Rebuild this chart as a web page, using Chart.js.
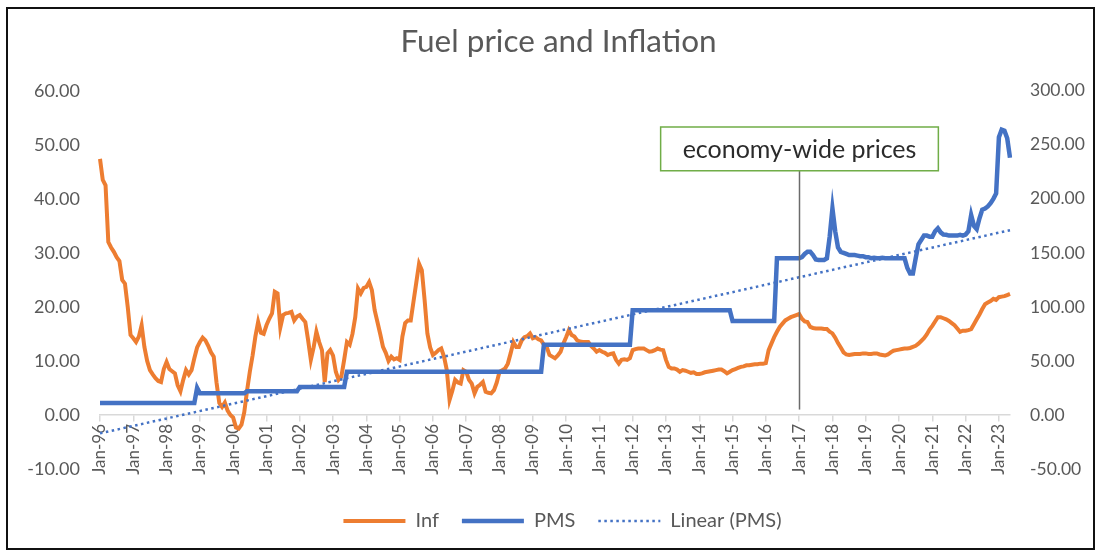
<!DOCTYPE html>
<html>
<head>
<meta charset="utf-8">
<script src="https://cdn.jsdelivr.net/npm/chart.js@4"></script>
<style>
  body { margin: 0; background: #fff; }
  #wrap { position: relative; width: 1097px; height: 551px; }
  #frame { position: absolute; left: 6px; top: 7px; width: 1089px; height: 543px; border: 2px solid #111; box-sizing: border-box; pointer-events: none; }
</style>
</head>
<body>
<div id="wrap">
  <canvas id="fuelChart" width="1097" height="551"></canvas>
  <div id="frame"></div>
</div>
<script>
// Monthly categories Jan-96 .. May-23
const monthNames = ["Jan","Feb","Mar","Apr","May","Jun","Jul","Aug","Sep","Oct","Nov","Dec"];
const labels = [];
for (let yr = 1996; yr <= 2023; yr++) {
  for (let mo = 0; mo < 12; mo++) {
    if (yr === 2023 && mo > 4) break;
    labels.push(monthNames[mo] + "-" + String(yr).slice(2));
  }
}

// Inflation (%), left axis, one row per year
const inf = [
  47.4, 43.5, 42.5, 32.0, 31.0, 30.2, 29.2, 28.5, 25.0, 24.3, 20.0, 14.8,
  14.2, 13.5, 14.5, 16.6, 12.6, 10.0, 8.3, 7.5, 6.8, 6.3, 6.1, 8.5,
  9.8, 8.5, 8.1, 7.7, 5.5, 4.4, 6.5, 8.3, 7.5, 8.3, 10.5, 12.5,
  13.5, 14.3, 13.8, 12.8, 11.6, 10.8, 6.0, 2.2, 1.5, 2.3, 0.8, 0.0,
  -0.5, -2.3, -2.5, -1.8, 0.5, 4.5, 8.0, 11.0, 14.5, 17.2, 15.2, 15.0,
  16.6, 17.8, 18.8, 22.8, 22.5, 16.2, 18.5, 18.8, 18.9, 19.1, 17.5, 18.2,
  18.5, 17.8, 17.2, 13.9, 10.2, 12.5, 15.4, 13.5, 12.0, 6.1, 11.4, 12.0,
  11.0, 8.0, 6.5, 7.1, 10.2, 13.5, 13.0, 15.0, 18.1, 23.4, 22.5, 23.5,
  23.7, 24.6, 23.1, 19.4, 17.2, 15.0, 12.6, 11.5, 10.0, 10.8, 10.3, 10.5,
  10.2, 14.5, 17.0, 17.5, 17.5, 21.0, 24.5, 28.0, 26.8, 21.3, 15.1, 12.5,
  11.1, 11.5, 12.0, 12.3, 10.8, 8.3, 2.8, 4.5, 6.5, 6.0, 5.8, 8.3,
  8.0, 6.5, 5.8, 4.0, 5.2, 5.6, 6.1, 4.3, 4.1, 4.0, 4.6, 6.0,
  8.0, 8.3, 8.6, 9.5, 11.4, 13.5, 12.6, 12.6, 13.8, 14.4, 14.6, 15.1,
  14.2, 14.4, 14.0, 13.8, 13.0, 12.6, 11.1, 10.8, 10.5, 11.0, 11.7, 13.2,
  14.4, 15.7, 14.8, 14.5, 13.8, 13.6, 13.5, 13.5, 13.5, 12.8, 12.3, 11.7,
  12.0, 11.7, 11.5, 11.1, 11.3, 11.4, 10.2, 9.5, 10.2, 10.3, 10.2, 10.5,
  12.0, 12.2, 12.3, 12.3, 12.3, 12.0, 11.7, 11.8, 12.0, 12.3, 12.1, 12.0,
  10.2, 8.9, 8.6, 8.6, 8.4, 8.0, 8.3, 8.2, 8.0, 7.8, 7.9, 7.6,
  7.6, 7.7, 7.9, 8.0, 8.1, 8.2, 8.3, 8.4, 8.4, 8.1, 7.7, 8.0,
  8.3, 8.5, 8.7, 8.9, 9.0, 9.2, 9.2, 9.3, 9.4, 9.4, 9.5, 9.5,
  9.6, 12.0, 13.2, 14.4, 15.4, 16.3, 16.9, 17.5, 17.8, 18.1, 18.3, 18.5,
  18.7, 17.8, 17.3, 17.2, 16.3, 16.1, 16.0, 16.0, 16.0, 15.9, 15.9, 15.4,
  15.1, 14.3, 13.3, 12.5, 11.6, 11.2, 11.1, 11.2, 11.3, 11.3, 11.3, 11.4,
  11.4, 11.3, 11.3, 11.4, 11.4, 11.2, 11.1, 11.0, 11.2, 11.6, 11.9, 12.0,
  12.1, 12.2, 12.3, 12.3, 12.4, 12.6, 12.8, 13.2, 13.7, 14.2, 14.9, 15.8,
  16.5, 17.3, 18.1, 18.1, 17.9, 17.7, 17.4, 17.0, 16.6, 16.0, 15.4, 15.6,
  15.6, 15.7, 15.9, 16.8, 17.7, 18.6, 19.6, 20.5, 20.8, 21.1, 21.5, 21.3,
  21.8, 21.9, 22.0, 22.2, 22.4
];

// PMS pump price, right axis
const pms = [
  11, 11, 11, 11, 11, 11, 11, 11, 11, 11, 11, 11,
  11, 11, 11, 11, 11, 11, 11, 11, 11, 11, 11, 11,
  11, 11, 11, 11, 11, 11, 11, 11, 11, 11, 11, 25,
  20, 20, 20, 20, 20, 20, 20, 20, 20, 20, 20, 20,
  20, 20, 20, 20, 20, 22, 22, 22, 22, 22, 22, 22,
  22, 22, 22, 22, 22, 22, 22, 22, 22, 22, 22, 22,
  26, 26, 26, 26, 26, 26, 26, 26, 26, 26, 26, 26,
  26, 26, 26, 26, 26, 40, 40, 40, 40, 40, 40, 40,
  40, 40, 40, 40, 40, 40, 40, 40, 40, 40, 40, 40,
  40, 40, 40, 40, 40, 40, 40, 40, 40, 40, 40, 40,
  40, 40, 40, 40, 40, 40, 40, 40, 40, 40, 40, 40,
  40, 40, 40, 40, 40, 40, 40, 40, 40, 40, 40, 40,
  40, 40, 40, 40, 40, 40, 40, 40, 40, 40, 40, 40,
  40, 40, 40, 40, 65, 65, 65, 65, 65, 65, 65, 65,
  65, 65, 65, 65, 65, 65, 65, 65, 65, 65, 65, 65,
  65, 65, 65, 65, 65, 65, 65, 65, 65, 65, 65, 65,
  97, 97, 97, 97, 97, 97, 97, 97, 97, 97, 97, 97,
  97, 97, 97, 97, 97, 97, 97, 97, 97, 97, 97, 97,
  97, 97, 97, 97, 97, 97, 97, 97, 97, 97, 97, 97,
  87, 87, 87, 87, 87, 87, 87, 87, 87, 87, 87, 87,
  87, 87, 87, 87, 145, 145, 145, 145, 145, 145, 145, 145,
  145, 146, 149, 151, 151, 148, 144, 143.5, 143.5, 143.5, 145, 165,
  191, 170, 155, 151, 150, 149, 148, 148, 148, 147.5, 147, 147,
  146, 146, 145, 145.5, 145, 145, 145.5, 145, 145, 145, 145, 145,
  145, 145, 145, 136, 131, 131, 145, 158, 162, 166, 166, 165,
  165, 170, 172.8, 169, 167, 166.7, 166, 166, 166, 166, 166.7, 166,
  167, 170, 185, 175, 172, 182, 190, 191, 193, 196, 200, 205,
  257, 264, 263, 256, 238
];

// Linear (PMS) trendline end values
const trendStart = -17;
const trendEnd = 171;

// Annotation
const markerMonth = "Jan-17";
const markerText = "economy-wide prices";

const trend = labels.map((_, i) => i === 0 ? trendStart : (i === labels.length - 1 ? trendEnd : null));

const fontFamily = "Lato, 'Open Sans', sans-serif";
const textGrey = "#595959";

const markerPlugin = {
  id: "marker",
  afterLayout(chart) {
    // title and legend sit a little right of centre in the original, legend lower
    chart.titleBlock.left += 10;
    chart.titleBlock.right += 10;
    chart.legend.left += 14;
    chart.legend.right += 14;
    chart.legend.top += 19;
    chart.legend.bottom += 19;
  },
  afterDatasetsDraw(chart) {
    const { ctx, scales: { x, y } } = chart;
    const px = Math.round(x.getPixelForValue(labels.indexOf(markerMonth))) + 0.5;
    const boxTop = y.getPixelForValue(53.3);
    const boxBottom = y.getPixelForValue(45.2);
    ctx.save();
    ctx.strokeStyle = "#6b6b6b";
    ctx.lineWidth = 1.5;
    ctx.beginPath();
    ctx.moveTo(px, y.getPixelForValue(1.0));
    ctx.lineTo(px, boxBottom);
    ctx.stroke();

    ctx.font = "25px " + fontFamily;
    const w = ctx.measureText(markerText).width + 44;
    ctx.fillStyle = "#fff";
    ctx.fillRect(px - w / 2, boxTop, w, boxBottom - boxTop);
    ctx.strokeStyle = "#70AD47";
    ctx.lineWidth = 1.5;
    ctx.strokeRect(px - w / 2, boxTop, w, boxBottom - boxTop);
    ctx.fillStyle = "#2b2b2b";
    ctx.textAlign = "center";
    ctx.textBaseline = "middle";
    ctx.fillText(markerText, px, (boxTop + boxBottom) / 2 + 1);
    ctx.restore();
  }
};

const ctx = document.getElementById("fuelChart").getContext("2d");
new Chart(ctx, {
  type: "line",
  data: {
    labels: labels,
    datasets: [
      {
        label: "Inf", data: inf, yAxisID: "y", order: 3,
        borderColor: "#ED7D31", backgroundColor: "#ED7D31",
        borderWidth: 4, pointRadius: 0, tension: 0, pointStyle: "line"
      },
      {
        label: "PMS", data: pms, yAxisID: "y1", order: 2,
        borderColor: "#4472C4", backgroundColor: "#4472C4",
        borderWidth: 4.5, pointRadius: 0, tension: 0, pointStyle: "line"
      },
      {
        label: "Linear (PMS)", data: trend, yAxisID: "y1", order: 1, spanGaps: true,
        borderColor: "#4472C4", backgroundColor: "#4472C4",
        borderWidth: 2.5, borderDash: [2.5, 3.5], pointRadius: 0, pointStyle: "line"
      }
    ]
  },
  options: {
    responsive: false,
    animation: false,
    layout: { padding: { left: 0, right: 0, top: 0, bottom: 29 } },
    plugins: {
      title: {
        display: true, text: "Fuel price and Inflation", color: textGrey,
        font: { family: fontFamily, size: 31.5, weight: "normal" },
        padding: { top: 23, bottom: 30 }
      },
      legend: {
        position: "bottom",
        labels: {
          usePointStyle: true, pointStyleWidth: 62, boxHeight: 10,
          color: textGrey, padding: 23,
          font: { family: fontFamily, size: 20 },
          sort: (a, b) => a.datasetIndex - b.datasetIndex,
          generateLabels: (chart) => {
            const items = Chart.defaults.plugins.legend.labels.generateLabels(chart);
            items.forEach(item => {
              const ds = chart.data.datasets[item.datasetIndex];
              item.lineDash = ds.borderDash || [];
              item.lineWidth = ds.borderWidth;
            });
            return items;
          }
        }
      },
      tooltip: { enabled: false }
    },
    scales: {
      x: {
        position: { y: 0 },
        offset: false,
        grid: { drawOnChartArea: false, drawTicks: true, tickLength: 6, color: "#D9D9D9", lineWidth: 1.5 },
        border: { color: "#D9D9D9", width: 1.5 },
        ticks: {
          autoSkip: false, maxRotation: 90, minRotation: 90, padding: 3,
          color: textGrey, font: { family: fontFamily, size: 17 }
        },
        afterBuildTicks: (scale) => { scale.ticks = scale.ticks.filter(t => t.value % 12 === 0); }
      },
      y: {
        position: "left", min: -10, max: 60,
        grid: { display: false, drawTicks: false }, border: { display: false },
        ticks: { stepSize: 10, padding: 20, color: textGrey, font: { family: fontFamily, size: 18 }, callback: v => v.toFixed(2) },
        afterFit: (scale) => { scale.width = 100; }
      },
      y1: {
        position: "right", min: -50, max: 300,
        grid: { display: false, drawTicks: false }, border: { display: false },
        ticks: { stepSize: 50, padding: 20, color: textGrey, font: { family: fontFamily, size: 17.5 }, callback: v => v.toFixed(2) },
        afterFit: (scale) => { scale.width = 87; }
      }
    }
  },
  plugins: [markerPlugin]
});
</script>
</body>
</html>
